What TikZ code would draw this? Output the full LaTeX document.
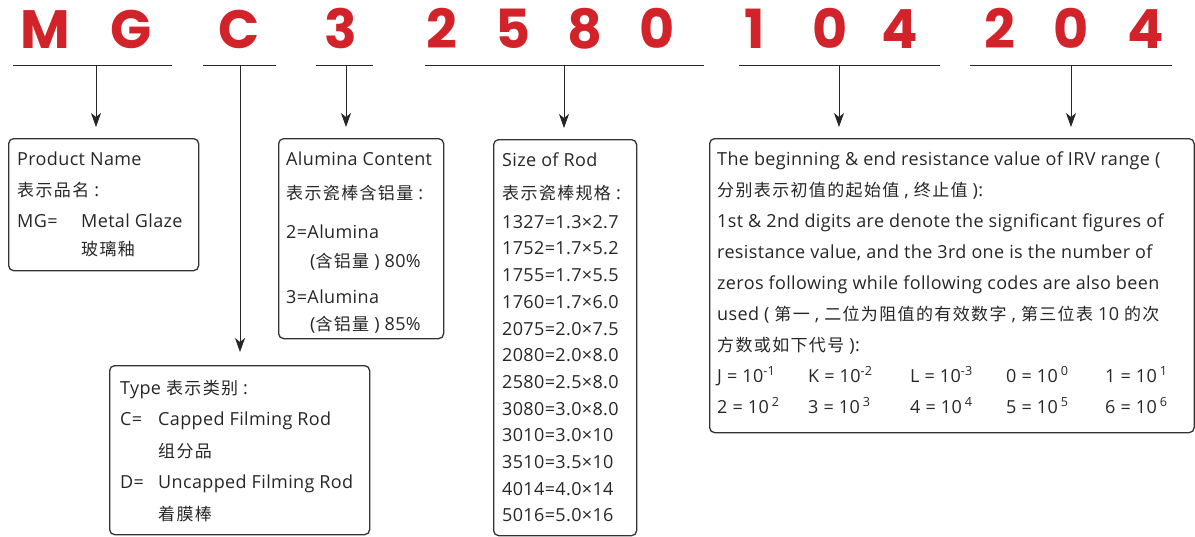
\documentclass[tikz,border=0pt]{standalone}
\usepackage{fontspec}
\setmainfont{Open Sans}[LetterSpace=2]
\newfontfamily\codefont{Poppins}
\newfontfamily\zhfont{Noto Sans CJK SC}[LetterSpace=8]
\newcommand{\zh}[1]{{\zhfont\fontsize{17}{17}\selectfont #1}}
\newcommand{\fl}{\rule{0pt}{16pt}}
\usetikzlibrary{arrows.meta,positioning}
\definecolor{CodeRed}{HTML}{D2232A}
\definecolor{BoxGray}{HTML}{333333}

\begin{document}
\begin{tikzpicture}[x=1pt,y=-1pt,
  code/.style={anchor=base,inner sep=0,text=CodeRed,font=\codefont\bfseries\fontsize{54}{54}\selectfont},
  box/.style={draw=BoxGray,line width=1.3pt,rounded corners=5pt,anchor=north west,inner sep=0},
  txt/.style={anchor=north west,inner sep=0,align=left,text=black!85,font=\fontsize{18}{31}\selectfont},
  uline/.style={draw=black!85,line width=0.9pt},
  arr/.style={-{Stealth[length=14pt,width=10pt,inset=4pt]},draw=black!85,line width=0.8pt}
]
\useasboundingbox (0,0) rectangle (1195,536);
% code letters
\node[code] (cM) at (45,48) {M};
\node[code] (cG) at (131,48) {G};
\node[code] (cC) at (239,48) {C};
\node[code] (c3) at (341,48) {3};
\node[code] (s1) at (442,48) {2};
\node[code] (s2) at (513,48) {5};
\node[code] (s3) at (585,48) {8};
\node[code] (s4) at (657,48) {0};
\node[code] (b1) at (755,48) {1};
\node[code] (b2) at (830,48) {0};
\node[code] (b3) at (900,48) {4};
\node[code] (e1) at (1000,48) {2};
\node[code] (e2) at (1071,48) {0};
\node[code] (e3) at (1146,48) {4};
% underlines
\coordinate (mgL) at (13,65);   \coordinate (mgR) at (172,65);   \coordinate (mgA) at (96,65);
\coordinate (tyL) at (203,65);  \coordinate (tyR) at (276,65);   \coordinate (tyA) at (240,65);
\coordinate (alL) at (316,65);  \coordinate (alR) at (373,65);   \coordinate (alA) at (346,65);
\coordinate (szL) at (425,65);  \coordinate (szR) at (704,65);   \coordinate (szA) at (564,65);
\coordinate (bgL) at (739,65);  \coordinate (bgR) at (940,65);   \coordinate (bgA) at (839,65);
\coordinate (enL) at (970,65);  \coordinate (enR) at (1172,65);  \coordinate (enA) at (1071,65);
\foreach \u in {mg,ty,al,sz,bg,en}
  \draw[uline] (\u L) -- (\u R);
% boxes
\node[box,minimum width=190pt,minimum height=132pt] (pname) at (8,138) {};
\node[box,minimum width=165pt,minimum height=200pt] (alum) at (278,138) {};
\node[box,minimum width=260pt,minimum height=169pt] (type) at (109,365) {};
\node[box,minimum width=143pt,minimum height=396pt] (size) at (493,139) {};
\node[box,minimum width=484.5pt,minimum height=294pt] (irv) at (709,138) {};
% texts (first baseline 16pt below the anchor)
\node[txt] (pname-t) at (17,149) {\fl Product Name\\
  \zh{表示品名} :\\
  \makebox[64pt][l]{MG=}Metal Glaze\\[-3pt]
  \hspace*{64pt}\zh{玻璃釉}};
\node[txt] (alum-t) at (286,149) {\fl Alumina Content\\[3pt]
  \zh{表示瓷棒含铝量} :\\[8pt]
  2=Alumina\\[-2pt]
  \hspace*{24pt}(\zh{含铝量} ) 80\%\\[5pt]
  3=Alumina\\[-4pt]
  \hspace*{24pt}(\zh{含铝量} ) 85\%};
\node[txt,font=\fontsize{18}{31.5}\selectfont] (type-t) at (120,378) {\fl Type \zh{表示类别} :\\
  \makebox[38pt][l]{C=}Capped Filming Rod\\
  \hspace*{38pt}\zh{组分品}\\
  \makebox[38pt][l]{D=}Uncapped Filming Rod\\
  \hspace*{38pt}\zh{着膜棒}};
\node[txt,font=\fontsize{18}{26.7}\selectfont] (size-t) at (502,150) {\fl Size of Rod\\[6.3pt]
  \zh{表示瓷棒规格} :\\[2.3pt]
  1327=1.3×2.7\\ 1752=1.7×5.2\\ 1755=1.7×5.5\\ 1760=1.7×6.0\\
  2075=2.0×7.5\\ 2080=2.0×8.0\\ 2580=2.5×8.0\\ 3080=3.0×8.0\\
  3010=3.0×10\\ 3510=3.5×10\\ 4014=4.0×14\\ 5016=5.0×16};
\node[txt] (irv-t) at (717,149) {\fl The beginning \& end resistance value of IRV range (\\
  \zh{分别表示初值的起始值} , \zh{终止值} ):\\
  1st \& 2nd digits are denote the significant figures of\\
  resistance value, and the 3rd one is the number of\\
  zeros following while following codes are also been\\
  used ( \zh{第一} , \zh{二位为阻值的有效数字} , \zh{第三位表} 10 \zh{的次}\\
  \zh{方数或如下代号} ):\\
  \makebox[91pt][l]{J = 10\textsuperscript{-1}}\makebox[102pt][l]{K = 10\textsuperscript{-2}}\makebox[96pt][l]{L = 10\textsuperscript{-3}}\makebox[99pt][l]{0 = 10\,\textsuperscript{0}}1 = 10\,\textsuperscript{1}\\
  \makebox[91pt][l]{2 = 10\,\textsuperscript{2}}\makebox[102pt][l]{3 = 10\,\textsuperscript{3}}\makebox[96pt][l]{4 = 10\,\textsuperscript{4}}\makebox[99pt][l]{5 = 10\,\textsuperscript{5}}6 = 10\,\textsuperscript{6}};
% arrows
\draw[arr,shorten >=11pt] (mgA) -- (mgA |- pname.north);
\draw[arr,shorten >=13pt] (tyA) -- (tyA |- type.north);
\draw[arr,shorten >=11pt] (alA) -- (alA |- alum.north);
\draw[arr,shorten >=11pt] (szA) -- (szA |- size.north);
\draw[arr,shorten >=11pt] (bgA) -- (bgA |- irv.north);
\draw[arr,shorten >=11pt] (enA) -- (enA |- irv.north);
\end{tikzpicture}
\end{document}
